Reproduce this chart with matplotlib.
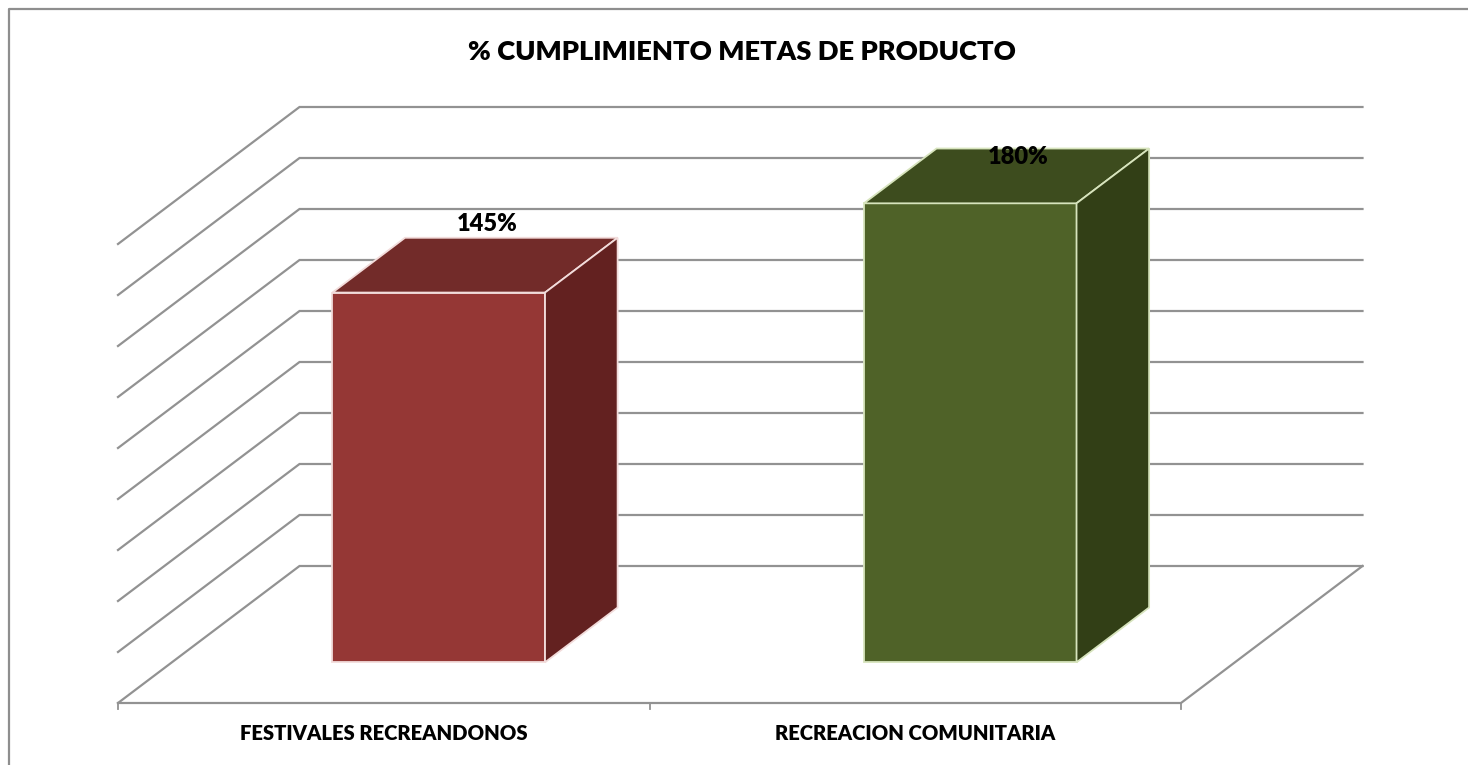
import matplotlib
matplotlib.use('Agg')
import matplotlib.pyplot as plt
from matplotlib.patches import Polygon

categories = ['FESTIVALES RECREANDONOS', 'RECREACION COMUNITARIA']
values = [145, 180]
labels = ['145%', '180%']
ticks = [0, 20, 40, 60, 80, 100, 120, 140, 160, 180]

face_colors = ['#953735', '#4F6228']
top_colors = ['#722B29', '#3D4C1E']
side_colors = ['#632120', '#323F16']
edge_colors = ['#F2DCDB', '#D7E4BD']

GRID = '#929292'
W, H = 1468, 765

# floor corners and scale, in picture pixels
X0, X1 = 118, 1181
Y0 = 703
DX, DY = 181.5, -137
PX_PER_PCT = 459 / 180
GAP = 0.302           # bar start inside the category
BAR_W = 0.4           # bar width, share of the category
DEPTH = (0.297, 0.697)    # bar front/back position on the floor depth
# label offsets from the middle of the bar top's back edge
LABEL_OFFSET = [(-24, -14), (-25, 8)]


def project(x, val, depth):
    """x in category units, val in %, depth 0 (front) to 1 (back)"""
    px = X0 + x * (X1 - X0) / len(categories) + depth * DX
    py = Y0 + depth * DY - val * PX_PER_PCT
    return px, py


plt.rcParams['font.family'] = ['Lato', 'DejaVu Sans']

fig = plt.figure(figsize=(W / 100, H / 100), dpi=100)
ax = fig.add_axes([0, 0, 1, 1])
ax.set_xlim(0, W)
ax.set_ylim(H, 0)
ax.axis('off')

# chart frame, cut by the picture on the right and at the bottom
ax.plot([8.5, 8.5, W], [H, 8.5, 8.5], color='#8E8E8E', lw=1.6, zorder=1)

# gridlines: side wall and back wall
n = len(categories)
for t in ticks:
    xs = [project(0, t, 0)[0], project(0, t, 1)[0], project(n, t, 1)[0]]
    ys = [project(0, t, 0)[1], project(0, t, 1)[1], project(n, t, 1)[1]]
    ax.plot(xs, ys, color=GRID, lw=1.6, zorder=2, solid_joinstyle='miter')

# floor front and right edges, tick marks
ax.plot(*zip(project(0, 0, 0), project(n, 0, 0), project(n, 0, 1)), color=GRID, lw=1.6, zorder=2)
for i in range(n + 1):
    px, py = project(i, 0, 0)
    ax.plot([px, px], [py, py + 6], color=GRID, lw=1.3, zorder=2)

# bars
for i, (v, lab) in enumerate(zip(values, labels)):
    left, right = i + GAP, i + GAP + BAR_W
    d0, d1 = DEPTH
    fl, fr = project(left, 0, d0), project(right, 0, d0)
    tl, tr = project(left, v, d0), project(right, v, d0)
    bl, br = project(left, v, d1), project(right, v, d1)
    sb = project(right, 0, d1)
    for pts, col in [([fl, fr, tr, tl], face_colors[i]),
                     ([tl, tr, br, bl], top_colors[i]),
                     ([fr, sb, br, tr], side_colors[i])]:
        ax.add_patch(Polygon(pts, closed=True, facecolor=col, edgecolor=edge_colors[i],
                             lw=1.3, joinstyle='miter', zorder=3))
    # value label sits over the back of the bar top
    ax.text((bl[0] + br[0]) / 2 + LABEL_OFFSET[i][0], bl[1] + LABEL_OFFSET[i][1], lab,
            ha='center', va='center', fontsize=17, fontweight='heavy', color='black', zorder=4)
    # category label
    ax.text(project(i + 0.5, 0, 0)[0], 733, categories[i], ha='center', va='center',
            fontsize=14.6, fontweight='heavy', color='black', zorder=4)

ax.text(742, 52, '% CUMPLIMIENTO METAS DE PRODUCTO', ha='center', va='center', fontsize=19.7,
        fontweight='heavy', color='black', zorder=4)

fig.savefig('out.png', dpi=100, facecolor='white')
